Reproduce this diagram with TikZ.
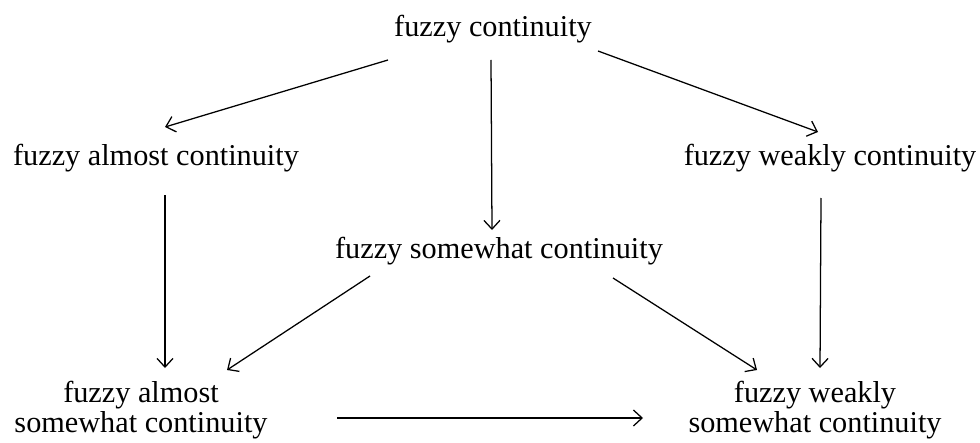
\documentclass[tikz,border=0pt]{standalone}
\usepackage{fontspec}
\setmainfont{Liberation Serif}
\usetikzlibrary{arrows.meta,calc}
\begin{document}
\begin{tikzpicture}[x=0.75pt,y=-0.75pt,
  lbl/.style={inner sep=0pt,anchor=base,align=center,
    font=\fontsize{22.7}{21.8}\selectfont},
  imp/.style={line width=0.95pt,-{Straight Barb[length=6.5pt,width=12pt,line width=0.95pt]}}]
\useasboundingbox (0,0) rectangle (980,442);
% concepts (the base anchor of a two-line node sits on its last line)
\node[lbl] (top) at (493,37)  {fuzzy continuity};
\node[lbl] (al)  at (156,165) {fuzzy almost continuity};
\node[lbl] (wk)  at (830,165) {fuzzy weakly continuity};
\node[lbl] (sw)  at (499,258) {fuzzy somewhat continuity};
\node[lbl] (bl)  at (141,432) {fuzzy almost\\somewhat continuity};
\node[lbl] (br)  at (815,432) {fuzzy weakly\\somewhat continuity};
% implications
\draw[imp] ($(top.base)+(-105,23)$) -- ($(al.base)+(9,-38)$);
\draw[imp] ($(top.base)+(-2,23)$)   -- ($(sw.base)+(-7,-28)$);
\draw[imp] ($(top.base)+(105,14)$)  -- ($(wk.base)+(-12,-33)$);
\draw[imp] ($(al.base)+(9,30)$)     -- ($(bl.base)+(24,-64)$);
\draw[imp] ($(wk.base)+(-9,33)$)    -- ($(br.base)+(5,-64)$);
\draw[imp] ($(sw.base)+(-129,18)$)  -- ($(bl.base)+(86,-62)$);
\draw[imp] ($(sw.base)+(114,20)$)   -- ($(br.base)+(-58,-62)$);
\draw[imp] ($(bl.base)+(196,-14)$)  -- ($(br.base)+(-172,-14)$);
\end{tikzpicture}
\end{document}
